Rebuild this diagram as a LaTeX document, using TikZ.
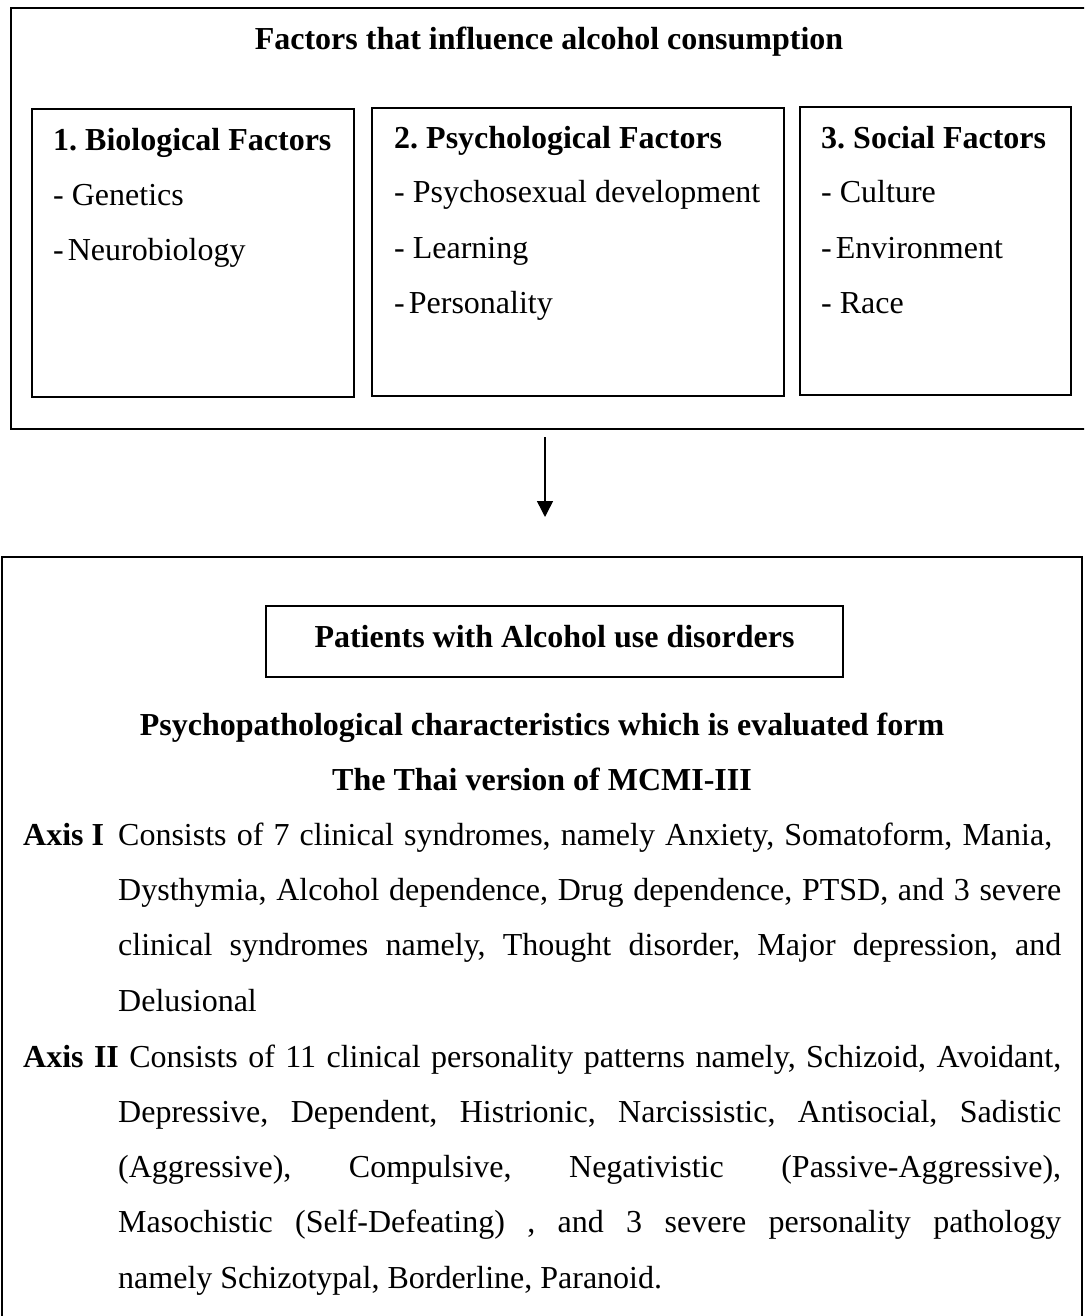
\documentclass[tikz,border=0pt]{standalone}
\usepackage{fontspec}
\setmainfont{Liberation Serif}
\usetikzlibrary{arrows.meta}
\frenchspacing
\begin{document}
\begin{tikzpicture}[x=1pt,y=-1pt,
  bigbox/.style={draw, line width=2pt, anchor=north west, inner sep=0pt, outer sep=0pt},
  smallbox/.style={draw, line width=1.6pt, anchor=north west, inner sep=0pt, outer sep=0pt},
  txt/.style={inner sep=0pt, anchor=base west, font=\fontsize{32}{38}\selectfont},
  btxt/.style={inner sep=0pt, anchor=base west, font=\fontsize{32}{38}\selectfont\bfseries},
  ctxt/.style={inner sep=0pt, anchor=base, font=\fontsize{32}{38}\selectfont\bfseries},
  arr/.style={line width=1.5pt, -{Triangle[length=16pt,width=16pt]}}]
\path[use as bounding box] (0,0) rectangle (1084,1316);
\fill[white] (0,0) rectangle (1084,1316);
\clip (0,0) rectangle (1084,1316);
% top block
\node[bigbox, minimum width=1090pt, minimum height=421pt] (top) at (11,8) {};
\node[ctxt] (title) at (549,50) {Factors that influence alcohol consumption};
\node[smallbox, minimum width=322pt, minimum height=288pt] (bio) at (32,109) {};
\node[smallbox, minimum width=412pt, minimum height=288pt] (psy) at (372,108) {};
\node[smallbox, minimum width=271pt, minimum height=288pt] (soc) at (800,107) {};
\node[btxt] (bioh) at (53,151) {1. Biological Factors};
\node[txt] (bio1) at (53,205) {- Genetics};
\node[txt] (bio2) at (53,260) {-\hspace{4pt}Neurobiology};
\node[btxt] (psyh) at (394,149) {2. Psychological Factors};
\node[txt] (psy1) at (394,203) {- Psychosexual development};
\node[txt] (psy2) at (394,258) {- Learning};
\node[txt] (psy3) at (394,313) {-\hspace{4pt}Personality};
\node[btxt] (soch) at (821,149) {3. Social Factors};
\node[txt] (soc1) at (821,203) {- Culture};
\node[txt] (soc2) at (821,258) {-\hspace{4pt}Environment};
\node[txt] (soc3) at (821,313) {- Race};
% bottom block
\node[bigbox, minimum width=1080pt, minimum height=800pt] (bottom) at (2,557) {};
\coordinate (ax) at (545,0);
\draw[arr, shorten <=8pt, shorten >=40pt] (top.south -| ax) -- (bottom.north -| ax);
\node[smallbox, minimum width=577pt, minimum height=71pt] (pbox) at (266,606) {};
\node[ctxt] (ptxt) at (554.5,647) {Patients with Alcohol use disorders};
\node[ctxt] (h1) at (542,735) {Psychopathological characteristics which is evaluated form};
\node[ctxt] (h2) at (542,790) {The Thai version of MCMI-III};
\node[btxt] (ax1) at (23,845) {Axis I};
\node[txt] (l1) at (118,845) {\makebox[934pt][s]{Consists of 7 clinical syndromes, namely Anxiety, Somatoform, Mania,}};
\node[txt] (l2) at (118,900) {\makebox[943pt][s]{Dysthymia, Alcohol dependence, Drug dependence, PTSD, and 3 severe}};
\node[txt] (l3) at (118,955) {\makebox[943pt][s]{clinical syndromes namely, Thought disorder, Major depression, and}};
\node[txt] (l4) at (118,1011) {Delusional};
\node[txt] (l5) at (23,1067) {\makebox[1038pt][s]{\textbf{Axis II} Consists of 11 clinical personality patterns namely, Schizoid, Avoidant,}};
\node[txt] (l6) at (118,1122) {\makebox[943pt][s]{Depressive, Dependent, Histrionic, Narcissistic, Antisocial, Sadistic}};
\node[txt] (l7) at (118,1177) {\makebox[943pt][s]{(Aggressive), Compulsive, Negativistic (Passive-Aggressive),}};
\node[txt] (l8) at (118,1232) {\makebox[943pt][s]{Masochistic (Self-Defeating) , and 3 severe personality pathology}};
\node[txt] (l9) at (118,1288) {namely Schizotypal, Borderline, Paranoid.};
\end{tikzpicture}
\end{document}
